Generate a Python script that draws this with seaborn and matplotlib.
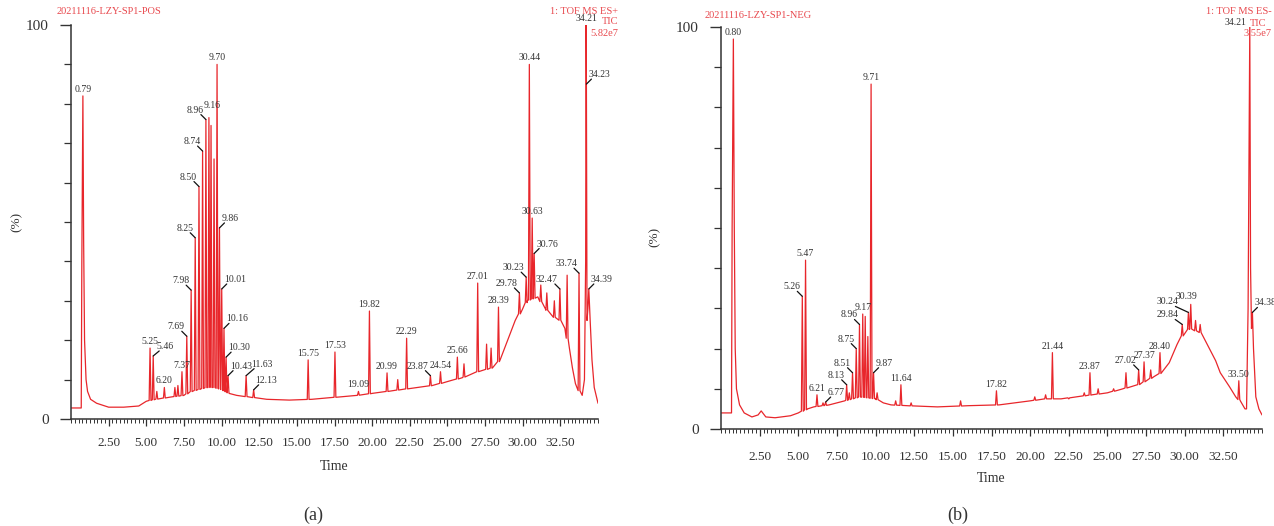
import numpy as np
import matplotlib
matplotlib.use("Agg")
import matplotlib.pyplot as plt
from matplotlib.ticker import MultipleLocator, FixedLocator
import seaborn as sns

# ---- positive mode (a) ----
pos_name = "20211116-LZY-SP1-POS"
pos_head = ["1: TOF MS ES+", "TIC", "5.82e7"]
# slowly varying part of the trace (time, %)
pos_base_t = [0.0, 0.68, 0.72, 0.79, 0.84, 0.90, 1.0, 1.1, 1.3, 1.7, 2.5, 3.5, 4.5, 5.0, 5.6,
              6.5, 7.5, 8.0, 8.5, 9.0, 9.5, 10.0, 10.5, 11.0, 12.0, 13.0, 14.5, 16.0, 17.5,
              19.0, 20.0, 21.0, 22.0, 23.0, 24.0, 25.0, 26.0, 27.0, 28.0, 28.5, 29.0, 29.5,
              30.0, 30.3, 31.0, 31.5, 32.0, 32.5, 32.8, 33.1, 33.3, 33.5, 33.6, 33.95, 34.1,
              34.18, 34.21, 34.23, 34.27, 34.33, 34.39, 34.48, 34.6, 34.75, 35.0]
pos_base_y = [2.8, 2.8, 40, 82, 45, 20, 10, 7, 5, 4, 3, 3, 3.3, 4.5, 5,
              5.5, 6, 7, 7.5, 8, 8, 7.5, 6.5, 6, 5.5, 5, 4.8, 5, 5.5,
              6, 6.5, 7, 7.5, 8, 8.5, 9.5, 10.5, 12, 13, 15, 20, 25,
              28, 30, 31, 28, 26, 25, 23, 18, 13, 9, 8, 6, 10,
              40, 100, 85, 25, 28, 33, 25, 15, 8, 4]
# sharp peaks (time, %)
pos_peak_t = [5.25, 5.46, 5.70, 6.20, 6.90, 7.10, 7.37, 7.69, 7.98, 8.25, 8.50, 8.74, 8.96,
              9.16, 9.30, 9.50, 9.70, 9.86, 10.01, 10.16, 10.30, 10.43, 11.63, 12.13,
              15.75, 17.53, 19.09, 19.82, 20.99, 21.70, 22.29, 23.87, 24.54, 25.66, 26.10,
              27.01, 27.60, 27.90, 28.39, 29.78, 30.23, 30.44, 30.63, 30.76, 31.20, 31.60,
              32.10, 32.47, 32.95, 33.74]
pos_peak_h = [18, 16, 7, 8, 8, 8.5, 12, 21, 32.7, 46, 59, 68, 76,
              76.5, 74.5, 66, 90, 48.5, 33, 23, 15.7, 11, 11, 7.4,
              15, 17, 7, 27.4, 11.7, 10, 20.5, 11, 12, 15.7, 14,
              34.5, 19, 18, 28.4, 32, 36, 90, 51, 42, 34, 32,
              30, 33, 36.5, 37]
pos_labels = ["0.79", "5.25", "5.46", "6.20", "7.37", "7.69", "7.98", "8.25", "8.50", "8.74",
              "8.96", "9.16", "9.70", "9.86", "10.01", "10.16", "10.30", "10.43", "11.63",
              "12.13", "15.75", "17.53", "19.09", "19.82", "20.99", "22.29", "23.87", "24.54",
              "25.66", "27.01", "28.39", "29.78", "30.23", "30.44", "30.63", "30.76", "32.47",
              "33.74", "34.21", "34.23", "34.39"]
pos_style = ["c", "c", "r", "c", "c", "l", "l", "l", "l", "l",
             "l", "c", "c", "r", "r", "r", "r", "r", "r",
             "r", "c", "c", "c", "c", "c", "c", "l", "c",
             "c", "c", "c", "l", "l", "c", "c", "r", "l",
             "l", "c", "r", "r"]

# ---- negative mode (b) ----
neg_name = "20211116-LZY-SP1-NEG"
neg_head = ["1: TOF MS ES-", "TIC", "3.55e7"]
neg_base_t = [0.0, 0.68, 0.72, 0.80, 0.86, 0.92, 1.0, 1.2, 1.5, 2.0, 2.4, 2.6, 2.9, 3.5,
              4.5, 5.0, 5.6, 6.0, 7.0, 8.0, 9.0, 10.0, 10.5, 11.0, 12.0, 14.0, 16.0, 18.0,
              20.0, 21.0, 22.0, 23.0, 24.0, 25.0, 26.0, 27.0, 28.0, 28.5, 29.0, 29.5, 29.8,
              30.3, 31.0, 31.6, 32.0, 32.3, 32.9, 33.3, 33.6, 33.9, 34.0, 34.1, 34.21, 34.26,
              34.32, 34.38, 34.45, 34.6, 34.8, 35.0]
neg_base_y = [4, 4, 50, 97, 50, 20, 10, 6, 4, 3, 3.5, 4.5, 3, 2.8,
              3.3, 4, 5, 5.5, 6, 7, 8, 7.5, 6.5, 6, 5.8, 5.5, 5.8, 6,
              7, 7.5, 7.5, 8, 8.5, 9, 10, 11, 13, 14, 16.5, 21, 23,
              25, 24, 20, 17, 14, 10.5, 8, 7, 5, 5, 30, 100, 40,
              25, 29, 20, 8, 5, 3.5]
neg_peak_t = [5.26, 5.47, 6.21, 6.60, 6.77, 8.13, 8.30, 8.51, 8.75, 8.96, 9.17, 9.33, 9.50,
              9.71, 9.87, 10.10, 11.30, 11.64, 12.30, 15.50, 17.82, 20.30, 21.00, 21.44,
              22.50, 23.50, 23.87, 24.40, 25.40, 26.20, 27.02, 27.37, 27.80, 28.40, 29.84,
              30.24, 30.39, 30.70, 31.00, 33.50]
neg_peak_h = [33, 42, 8.5, 6.5, 6.7, 11, 9, 14, 20, 26, 28.6, 28, 23,
              85.8, 14, 9, 7, 11, 6.5, 7, 9.5, 8, 8.5, 19,
              7.5, 9, 14, 10, 10, 14, 14.7, 16.7, 14.7, 19, 26,
              29, 31, 27, 26, 12]
neg_labels = ["0.80", "5.26", "5.47", "6.21", "6.77", "8.13", "8.51", "8.75", "8.96", "9.17",
              "9.71", "9.87", "11.64", "17.82", "21.44", "23.87", "27.02", "27.37", "28.40",
              "29.84", "30.24", "30.39", "33.50", "34.21", "34.38"]
neg_style = ["c", "l", "c", "c", "r", "l", "l", "l", "l", "c",
             "c", "r", "c", "c", "c", "c", "l", "c", "c",
             "l", "l", "c", "c", "L", "r"]

# extra shifts (pixels) for labels that would collide
pos_nudge = {"9.16": (3, 6), "11.63": (3, 2), "5.46": (1, 0)}
neg_nudge = {"29.84": (-2, 0), "30.24": (-8, 1), "30.39": (-4, 1)}

red = "#e8262b"
red_txt = "#e8484d"
ink = "#333333"
W, H = 1274, 526

sns.set_style("ticks")
plt.rcParams["font.family"] = ["Liberation Serif", "DejaVu Serif"]


def build_trace(bt, by, pt, ph, hw=0.06):
    bt = np.asarray(bt, float)
    by = np.asarray(by, float)
    pt = np.asarray(pt, float)
    ph = np.asarray(ph, float)
    keep = np.array([np.all(np.abs(pt - t) > hw) for t in bt])
    foot = np.interp(pt, bt, by)
    t = np.concatenate([bt[keep], pt - hw, pt, pt + hw])
    y = np.concatenate([by[keep], foot, ph, foot])
    o = np.argsort(t, kind="stable")
    return t[o], y[o]


def draw(ax, bt, by, pt, ph, labels, style, nudge):
    t, y = build_trace(bt, by, pt, ph)
    sns.lineplot(x=t, y=y, ax=ax, color=red, lw=0.9, estimator=None, sort=False)
    for lab, st in zip(labels, style):
        lt = float(lab)
        ly = np.interp(lt, t, y)
        nx, ny = nudge.get(lab, (0, 0))
        kw = dict(xy=(lt, ly), textcoords="offset pixels", fontsize=7, color=ink,
                  annotation_clip=False)
        if st == "c":
            ax.annotate(lab, xytext=(nx, 2 + ny), ha="center", va="bottom", **kw)
        elif st == "L":
            ax.annotate(lab, xytext=(-3 + nx, ny), ha="right", va="bottom", **kw)
        else:
            s = -1 if st == "l" else 1
            ax.annotate("", xy=(lt, ly), xytext=(5 * s + nx, 5 + ny), textcoords="offset pixels",
                        arrowprops=dict(arrowstyle="-", color="#111111", lw=0.9,
                                        shrinkA=0, shrinkB=0), annotation_clip=False)
            ax.annotate(lab, xytext=(2 * s + nx, 5 + ny), ha="right" if s < 0 else "left",
                        va="bottom", **kw)
    ax.set_xlim(0, 35)
    ax.set_ylim(0, 100)
    ax.xaxis.set_major_locator(FixedLocator(np.arange(2.5, 33, 2.5)))
    ax.xaxis.set_minor_locator(MultipleLocator(0.25))
    ax.set_xticklabels(["%.2f" % v for v in np.arange(2.5, 33, 2.5)])
    ax.yaxis.set_major_locator(FixedLocator([0, 100]))
    ax.yaxis.set_minor_locator(FixedLocator(np.arange(10, 100, 10)))
    ax.set_yticklabels(["0", "100"])
    ax.tick_params(axis="x", which="major", length=5, width=0.9, colors=ink,
                   labelsize=9.5, pad=8)
    ax.tick_params(axis="x", which="minor", length=3, width=0.7, colors=ink)
    ax.tick_params(axis="y", which="major", length=8, width=1.0, colors=ink,
                   labelsize=11, pad=8)
    ax.tick_params(axis="y", which="minor", length=5, width=0.9, colors=ink)
    for s in ["top", "right"]:
        ax.spines[s].set_visible(False)
    for s in ["left", "bottom"]:
        ax.spines[s].set_color(ink)
        ax.spines[s].set_linewidth(1.1)
    ax.set_xlabel("Time", fontsize=10, color=ink, labelpad=8)
    ax.set_ylabel("")
    ax.set_facecolor("none")


fig = plt.figure(figsize=(W / 100, H / 100), dpi=100)
ax1 = fig.add_axes([71 / W, 1 - 419 / H, (598 - 71) / W, (419 - 25) / H])
ax2 = fig.add_axes([721 / W, 1 - 429 / H, (1262 - 721) / W, (429 - 27) / H])
draw(ax1, pos_base_t, pos_base_y, pos_peak_t, pos_peak_h, pos_labels, pos_style, pos_nudge)
draw(ax2, neg_base_t, neg_base_y, neg_peak_t, neg_peak_h, neg_labels, neg_style, neg_nudge)
ax2.tick_params(axis="x", which="major", pad=11)
ax2.xaxis.labelpad = 6


def ftext(x, y, s, **kw):
    fig.text(x / W, 1 - y / H, s, va="center", **kw)


ftext(57, 12, pos_name, fontsize=7.5, color=red_txt)
ftext(618, 12, pos_head[0], fontsize=7.5, color=red_txt, ha="right")
ftext(618, 22, pos_head[1], fontsize=7.5, color=red_txt, ha="right")
ftext(618, 33, pos_head[2], fontsize=7.5, color=red_txt, ha="right")
ftext(705, 15, neg_name, fontsize=7.5, color=red_txt)
ftext(1272, 12, neg_head[0], fontsize=7.5, color=red_txt, ha="right")
ftext(1266, 23, neg_head[1], fontsize=7.5, color=red_txt, ha="right")
ftext(1272, 33, neg_head[2], fontsize=7.5, color=red_txt, ha="right")
ftext(17, 222, "(%)", fontsize=9.5, color=ink, rotation=90, ha="center")
ftext(655, 237, "(%)", fontsize=9.5, color=ink, rotation=90, ha="center")
ftext(313, 515, "(a)", fontsize=13, color=ink, ha="center")
ftext(958, 515, "(b)", fontsize=13, color=ink, ha="center")

fig.savefig("out.png", dpi=100)
